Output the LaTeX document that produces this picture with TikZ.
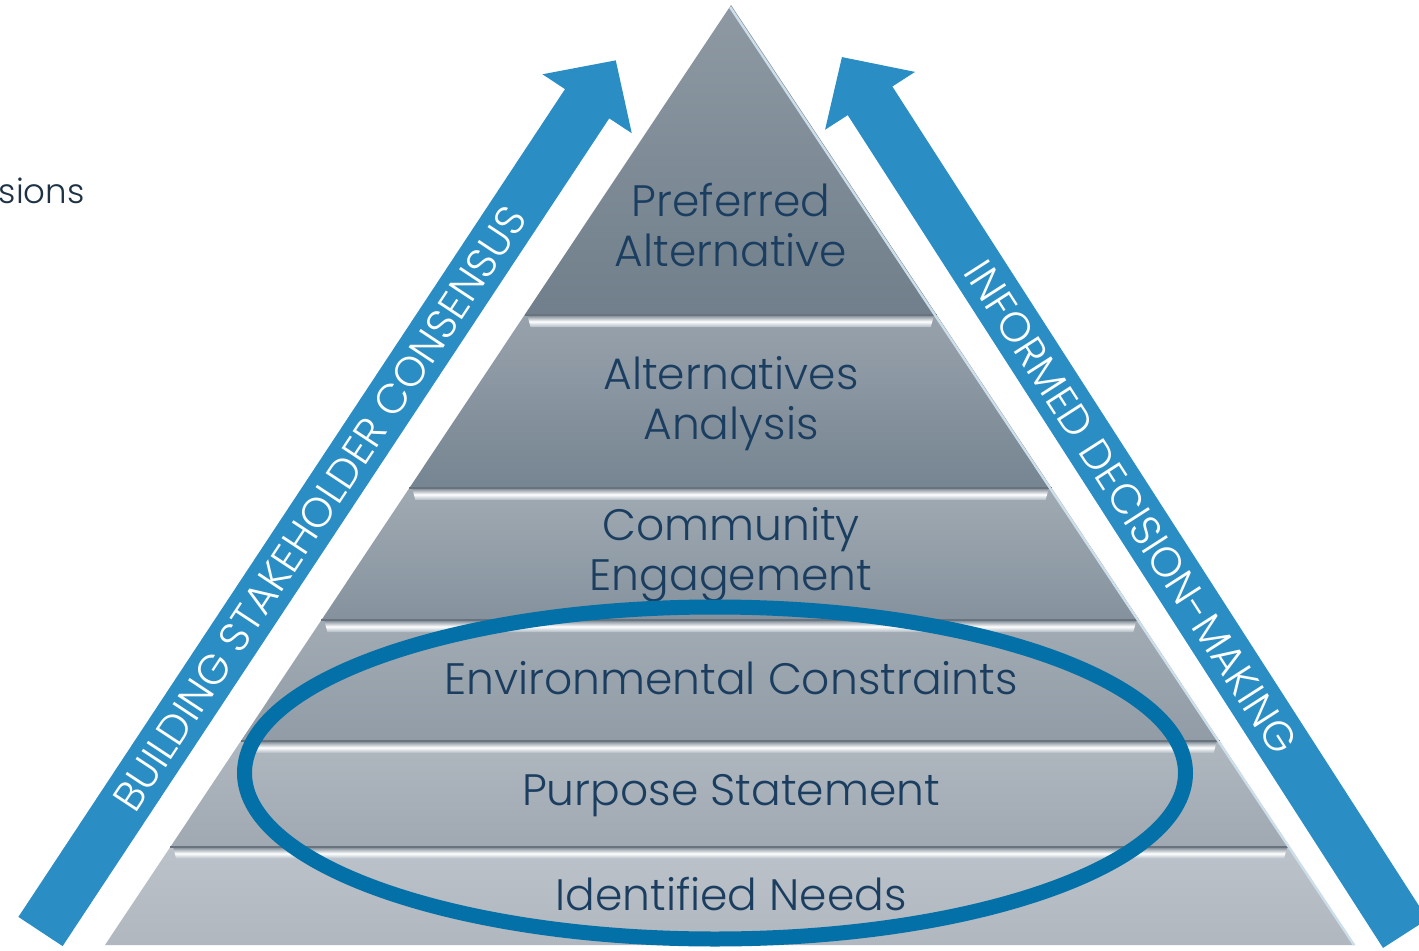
\documentclass[tikz,border=0pt]{standalone}
\usepackage{fontspec}
\IfFontExistsTF{Poppins Light}{\setmainfont{Poppins Light}}{\setmainfont{Poppins}}
\usetikzlibrary{calc}
\definecolor{arrowblue}{RGB}{42,142,196}
\definecolor{ringblue}{RGB}{4,112,168}
\definecolor{labelnavy}{RGB}{27,62,96}
\definecolor{sionsink}{RGB}{30,50,70}
\definecolor{lay1t}{RGB}{142,153,163}
\definecolor{lay1b}{RGB}{112,127,139}
\definecolor{lay2t}{RGB}{152,162,172}
\definecolor{lay2b}{RGB}{118,133,146}
\definecolor{lay3t}{RGB}{160,170,179}
\definecolor{lay3b}{RGB}{133,146,157}
\definecolor{lay4t}{RGB}{162,171,180}
\definecolor{lay4b}{RGB}{145,156,166}
\definecolor{lay5t}{RGB}{175,183,191}
\definecolor{lay5b}{RGB}{160,169,178}
\definecolor{lay6t}{RGB}{188,194,202}
\definecolor{lay6b}{RGB}{176,183,191}
\definecolor{bevtop}{RGB}{140,150,160}
\definecolor{bevbot}{RGB}{175,185,195}
\definecolor{bevline}{RGB}{105,115,125}
\definecolor{edgeglow}{RGB}{205,222,235}

\begin{document}
\begin{tikzpicture}[x=0.5pt, y=0.5pt,
  layerlabel/.style={text=labelnavy, align=center, font=\fontsize{22}{25}\selectfont},
  bandlabel/.style={text=white, font=\fontsize{20.8}{22}\selectfont, transform shape},
  blockarrow/.style={fill=arrowblue},
  seam/.style={draw=bevline, line width=1pt}]

\useasboundingbox (0,0) rectangle (1419,950);
\clip (0,0) rectangle (1419,950);

% pyramid corners
\coordinate (apex) at (731,945);
\coordinate (bl) at (105,5);
\coordinate (br) at (1355,5);

% layers, top to bottom
\foreach \i/\ta/\tb in {1/0/0.3298, 2/0.3298/0.5138, 3/0.5138/0.6543,
                        4/0.6543/0.783, 5/0.783/0.8957, 6/0.8957/1}{
  \shade[top color=lay\i t, bottom color=lay\i b]
    ($(apex)!\ta!(bl)$) -- ($(apex)!\tb!(bl)$) -- ($(apex)!\tb!(br)$) -- ($(apex)!\ta!(br)$) -- cycle;
}

% bevelled seams between layers
\foreach \ta in {0.3298,0.5138,0.6543,0.783,0.8957}{
  \shade[top color=bevtop, bottom color=bevbot, middle color=white]
    ($(apex)!\ta!(bl)+(3,-1)$) -- ($(apex)!\ta!(br)+(-3,-1)$)
    -- ($(apex)!\ta!(br)+(-6,-12)$) -- ($(apex)!\ta!(bl)+(6,-12)$) -- cycle;
  \draw[seam] ($(apex)!\ta!(bl)$) -- ($(apex)!\ta!(br)$);
}
\draw[edgeglow, line width=1.2pt] ($(apex)+(-1,-2)$) -- ($(br)+(-1,0)$);

% layer labels
\node[layerlabel] (pref) at (731,724.5) {Preferred\\Alternative};
\node[layerlabel] (alts) at (731,546) {Alternatives\\Analysis};
\node[layerlabel] (comm) at (731,395) {Community\\Engagement};
\node[layerlabel] (envc) at (731,271.5) {Environmental Constraints};
\node[layerlabel] (purp) at (731,154) {Purpose Statement};
\node[layerlabel] (need) at (731,55.5) {Identified Needs};

% ring round the lower three layers
\draw[ringblue, line width=7.5pt] (715,177) ellipse [x radius=470.5, y radius=166];

% left arrow
\begin{scope}[shift={(40.5,18.5)}, rotate=56.56]
  \fill[blockarrow] (0,-26.5) -- (992,-26.5) -- (992,-53.5) -- (1044,0)
    -- (992,53.5) -- (992,26.5) -- (0,26.5) -- cycle;
  \node[bandlabel] (consensus) at (507,0) {BUILDING STAKEHOLDER CONSENSUS};
\end{scope}

% right arrow
\begin{scope}[shift={(1405.3,16.4)}, rotate=122.73]
  \fill[blockarrow] (0,-26.5) -- (990,-26.5) -- (990,-53.5) -- (1042,0)
    -- (990,53.5) -- (990,26.5) -- (0,26.5) -- cycle;
  \node[bandlabel, rotate=180] (informed) at (507,0) {INFORMED DECISION-MAKING};
\end{scope}

\node[font=\fontsize{17}{19}\selectfont, text=sionsink, anchor=base east, inner sep=0pt] (sions) at (85,747) {sions};
\end{tikzpicture}
\end{document}
